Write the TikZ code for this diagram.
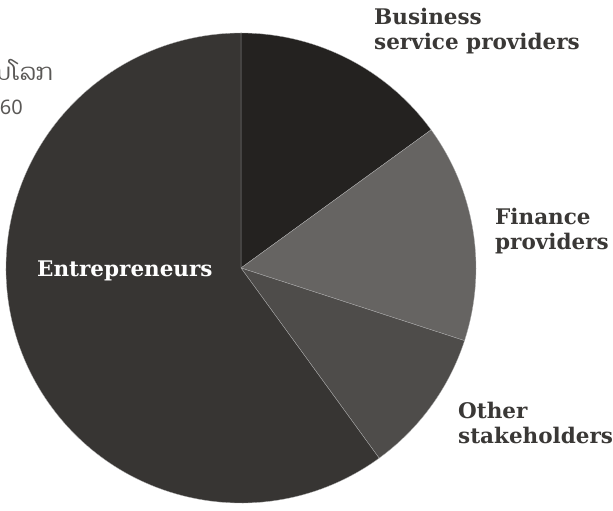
\documentclass[tikz,border=0pt]{standalone}
\usepackage{fontspec}
\setmainfont{DejaVu Serif}
\newfontfamily\laofont[Script=Lao]{Dhyana}
\newfontfamily\notefont{Noto Sans}
\newfontfamily\slabfont{DejaVu Serif}
\definecolor{bizcol}{HTML}{242220}
\definecolor{fincol}{HTML}{666462}
\definecolor{othcol}{HTML}{4E4C4A}
\definecolor{entcol}{HTML}{373533}
\definecolor{lblcol}{HTML}{3A3836}
\definecolor{notecol}{HTML}{5A5856}
\tikzset{
  slice/.style={draw=gray!60, line width=0.3pt},
  lbl/.style={font=\slabfont\bfseries\fontsize{21.5}{25}\selectfont, text=lblcol, align=left, inner sep=0pt, anchor=north west},
  note/.style={font=\notefont\fontsize{20}{24}\selectfont, text=notecol, inner sep=0pt, anchor=base east}
}
\begin{document}
\begin{tikzpicture}[x=1pt, y=1pt]
        \useasboundingbox (0,0) rectangle (613,511);
        \coordinate (c) at (241,243);
        % slices, clockwise from the top
        \fill[bizcol, slice] (c) -- ++(90:235) arc[start angle=90, end angle=36, radius=235] -- cycle;
        \fill[fincol, slice] (c) -- ++(36:235) arc[start angle=36, end angle=-18, radius=235] -- cycle;
        \fill[othcol, slice] (c) -- ++(-18:235) arc[start angle=-18, end angle=-54, radius=235] -- cycle;
        \fill[entcol, slice] (c) -- ++(-54:235) arc[start angle=-54, end angle=-270, radius=235] -- cycle;
        % labels
        \node[lbl] (biz) at (374,503) {Business\\service providers};
        \node[lbl] (fin) at (495,303) {Finance\\providers};
        \node[lbl] (oth) at (458,109) {Other\\stakeholders};
        \node[lbl, text=white] (ent) at (37,250) {Entrepreneurs};
        % clipped note at the left edge
        \node[note, font=\laofont\fontsize{23}{24}\selectfont] (noteA) at (53,430) {ນໂລກ};
        \node[note] (noteB) at (23,396) {60};
    \end{tikzpicture}
\end{document}
